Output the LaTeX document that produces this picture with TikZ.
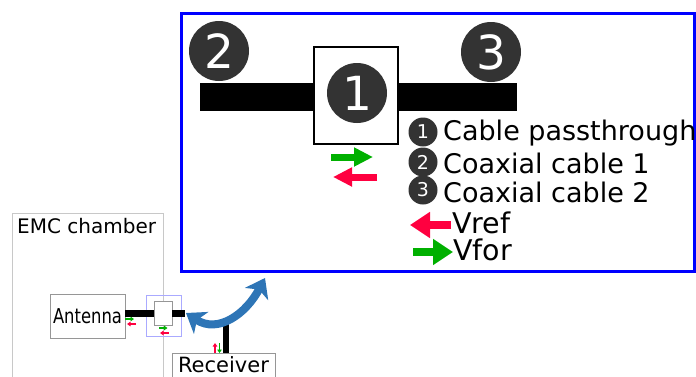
\documentclass[tikz,border=0pt]{standalone}
\usepackage{fontspec}
\setmainfont{DejaVu Sans}
\usetikzlibrary{arrows.meta}
\definecolor{numgray}{RGB}{51,51,51}
\definecolor{vgreen}{RGB}{0,176,0}
\definecolor{vred}{RGB}{255,0,64}
\definecolor{frameblue}{RGB}{0,0,255}
\definecolor{curveblue}{RGB}{46,117,182}
\definecolor{lav}{RGB}{170,170,255}
\definecolor{chambergray}{RGB}{200,200,200}
\definecolor{boxgray}{RGB}{150,150,150}
\newcommand{\fs}[1]{\fontsize{#1}{#1}\selectfont}
\begin{document}
\begin{tikzpicture}[x=1pt,y=-1pt,
  numcirc/.style={circle,fill=numgray,text=white,inner sep=0pt,minimum size=#1},
  plainbox/.style={draw,inner sep=0pt,fill=white},
  bigarrow/.style={line width=7pt,-{Triangle[length=19pt,width=18pt]}},
  legarrow/.style={line width=8pt,-{Triangle[length=20pt,width=25pt]}},
  tinyarrow/.style={line width=1.4pt,-{Triangle[length=3.5pt,width=4.5pt]}},
  legtext/.style={anchor=base west,inner sep=0pt,font=\fs{27}},
]
\useasboundingbox (0,0) rectangle (696,376);
\clip (0,0) rectangle (696,376);

% ---------- zoomed view ----------
\node[draw=frameblue,line width=3pt,inner sep=0pt,anchor=north west,
      minimum width=513pt,minimum height=258pt] (frame) at (180,12) {};
\node[fill=black,inner sep=0pt,minimum width=317pt,minimum height=28pt] (cable) at (358.5,97) {};
\node[plainbox,line width=1.5pt,minimum width=84pt,minimum height=97pt] (box1) at (356,95.5) {};
\node[numcirc=60pt,font=\fs{47}] (c1) at (357,93) {1};
\node[numcirc=60pt,font=\fs{47}] (c2) at (219,51) {2};
\node[numcirc=60pt,font=\fs{47}] (c3) at (491,52) {3};

\coordinate (gA) at (331,157); \coordinate (gB) at (373,157);
\coordinate (rA) at (377,177); \coordinate (rB) at (333,177);
\draw[vgreen,bigarrow] (gA) -- (gB);
\draw[vred,bigarrow] (rA) -- (rB);

% legend
\node[numcirc=29pt,font=\fs{19}] (l1) at (423,132) {1};
\node[numcirc=29pt,font=\fs{19}] (l2) at (423,162) {2};
\node[numcirc=29pt,font=\fs{19}] (l3) at (423,190) {3};
\node[legtext] (t1) at (443,140) {Cable passthrough};
\node[legtext] (t2) at (443,173) {Coaxial cable 1};
\node[legtext] (t3) at (443,202) {Coaxial cable 2};
\coordinate (vrA) at (451,225); \coordinate (vrB) at (410,225);
\coordinate (vfA) at (413,252); \coordinate (vfB) at (453,252);
\draw[vred,legarrow] (vrA) -- (vrB);
\draw[vgreen,legarrow] (vfA) -- (vfB);
\node[legtext,font=\fs{28.5}] (tref) at (452,233) {Vref};
\node[legtext,font=\fs{28.5}] (tfor) at (453,260) {Vfor};

% ---------- overview ----------
\node[draw=chambergray,line width=0.8pt,inner sep=0pt,anchor=north west,
      minimum width=151pt,minimum height=200pt] (emc) at (12,213) {};
\node[anchor=base west,inner sep=0pt,font=\fs{20}] (emclabel) at (17,233) {EMC chamber};

\node[draw=boxgray,line width=0.8pt,fill=white,inner sep=0pt,minimum width=75pt,minimum height=44pt] (ant) at (87.5,316)
  {\scalebox{0.8}[1]{\fs{20.5}Antenna}};
\node[draw=lav,line width=0.8pt,inner sep=0pt,minimum width=35pt,minimum height=41pt] (pass) at (163.5,315.5) {};
\node[draw=boxgray,line width=0.8pt,fill=white,inner sep=0pt,minimum width=18pt,minimum height=24pt] (inner) at (163,313) {};
\coordinate (passR) at (185,313);
\draw[line width=7pt] (ant.east |- inner.west) -- (inner.west);
\draw[line width=7pt] (inner.east) -- (passR);

\node[draw=boxgray,line width=0.8pt,fill=white,inner sep=0pt,anchor=north west,
      minimum width=103pt,minimum height=60pt] (rec) at (172,353) {};
\node[anchor=base,inner sep=0pt,font=\fs{21}] (reclabel) at (223.5,372) {Receiver};
\coordinate (recbar) at (226,323);
\draw[line width=6pt] (recbar) -- (recbar |- rec.north);

% tiny signal arrows
\coordinate (a1) at (125,319); \coordinate (a2) at (134,319);
\coordinate (a3) at (136,324); \coordinate (a4) at (127,324);
\coordinate (b1) at (159,328); \coordinate (b2) at (167.5,328);
\coordinate (b3) at (168.5,333); \coordinate (b4) at (160,333);
\coordinate (r1) at (215,353); \coordinate (r2) at (215,343);
\coordinate (r3) at (219.5,343); \coordinate (r4) at (219.5,353);
\draw[vgreen,tinyarrow] (a1) -- (a2);
\draw[vred,tinyarrow] (a3) -- (a4);
\draw[vgreen,tinyarrow] (b1) -- (b2);
\draw[vred,tinyarrow] (b3) -- (b4);
\draw[vred,tinyarrow] (r1) -- (r2);
\draw[vgreen,tinyarrow] (r3) -- (r4);

% curved double arrow linking overview and zoomed view
\coordinate (cL) at (186,313);
\coordinate (cR) at (265,278);
\draw[curveblue,line width=8pt,{Stealth[length=18pt,width=26pt,inset=5pt]}-{Stealth[length=18pt,width=26pt,inset=5pt]}]
  (cL) .. controls (218,334) and (246,314) .. (cR);
\end{tikzpicture}
\end{document}
